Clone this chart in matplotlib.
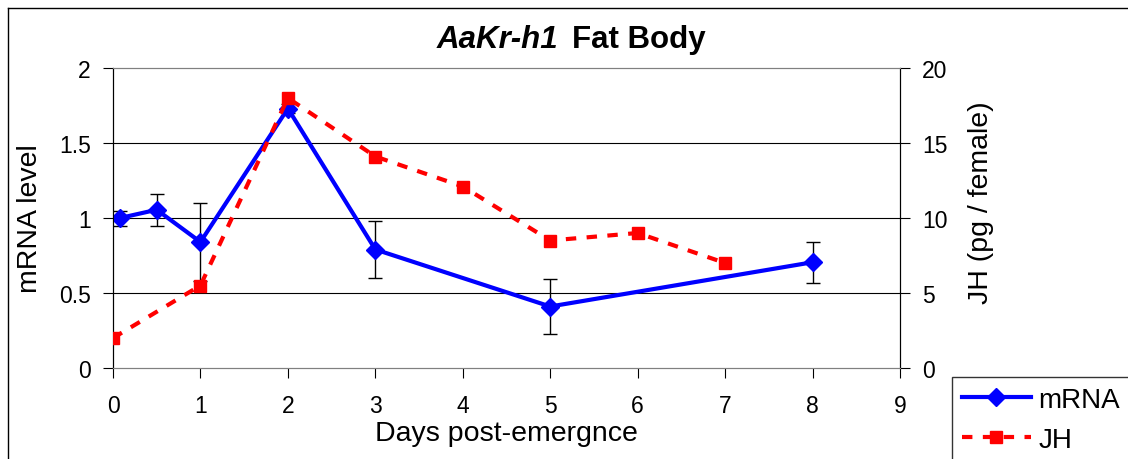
import matplotlib.pyplot as plt
from matplotlib.lines import Line2D

plt.rcParams['font.family'] = ['Liberation Sans', 'DejaVu Sans']

# mRNA level (left axis), with error bars
mrna_days = [0.08, 0.5, 1, 2, 3, 5, 8]
mrna_level = [1.0, 1.055, 0.84, 1.73, 0.79, 0.41, 0.705]
mrna_err = [0.05, 0.105, 0.26, 0.03, 0.19, 0.185, 0.138]

# JH titre (right axis)
jh_days = [0, 1, 2, 3, 4, 5, 6, 7]
jh_level = [2.0, 5.5, 18.0, 14.1, 12.1, 8.5, 9.0, 7.0]

fig = plt.figure(figsize=(11.28, 4.6), dpi=100)
ax = fig.add_axes([113/1128, 1-369/460, (900-113)/1128, 300/460])
ax2 = ax.twinx()

ax.errorbar(mrna_days, mrna_level, yerr=mrna_err, fmt='none', ecolor='black',
            elinewidth=1, capsize=5, capthick=1, zorder=2)
ax.plot(mrna_days, mrna_level, color='#0000FF', lw=3, marker='D', ms=9,
        zorder=3)
ax2.plot(jh_days, jh_level, color='#FF0000', lw=3, ls=(0, (2.5, 2.5)),
         marker='s', ms=8, zorder=3)

ax.set_xlim(0, 9)
ax.set_ylim(0, 2)
ax2.set_ylim(0, 20)
ax.set_xticks(range(0, 10))
ax.set_yticks([0, 0.5, 1, 1.5, 2])
ax.set_yticklabels(['0', '0.5', '1', '1.5', '2'])
ax2.set_yticks([0, 5, 10, 15, 20])

for y in [0.5, 1, 1.5]:
    ax.axhline(y, color='black', lw=0.8, zorder=0)

for a in (ax, ax2):
    a.spines['top'].set_color('#808080')
    a.spines['bottom'].set_color('#808080')
    a.tick_params(labelsize=16.5, length=7, width=0.8, direction='out')
ax.tick_params(axis='x', pad=12)
ax.tick_params(axis='y', pad=9)
ax2.tick_params(axis='y', pad=9)

ax.set_xlabel('Days post-emergnce', fontsize=20.5, labelpad=2)
ax.set_ylabel('mRNA level', fontsize=20.5)
ax.yaxis.set_label_coords(-70/787, 0.5)
ax2.set_ylabel('JH (pg / female)', fontsize=20.5)
ax2.yaxis.set_label_coords(1 + 68/787, (369-203)/300)

fig.text(558/1128, 1-48/460, 'AaKr-h1', fontsize=22.5, fontweight='bold',
         fontstyle='italic', ha='right', va='baseline')
fig.text(572/1128, 1-48/460, 'Fat Body', fontsize=22.5, fontweight='bold',
         ha='left', va='baseline')

# outer chart frame (cut off at right and bottom)
fig.add_artist(Line2D([8/1128, 1], [1-9/460, 1-9/460], color='black', lw=1))
fig.add_artist(Line2D([8/1128, 8/1128], [0, 1-9/460], color='black', lw=1))

handles = [Line2D([], [], color='#0000FF', lw=3, marker='D', ms=9),
           Line2D([], [], color='#FF0000', lw=3, ls=(0, (2.5, 2.5)),
                  marker='s', ms=8)]
leg = fig.legend(handles, ['mRNA', 'JH'], loc='upper left',
                 bbox_to_anchor=(952/1128, 1-378/460), borderaxespad=0,
                 fontsize=20, frameon=True, fancybox=False, handlelength=2.5,
                 handletextpad=0.25, borderpad=0.35, labelspacing=0.5)
leg.get_frame().set_edgecolor('black')
leg.get_frame().set_linewidth(1)

fig.savefig('out.png', dpi=100)
